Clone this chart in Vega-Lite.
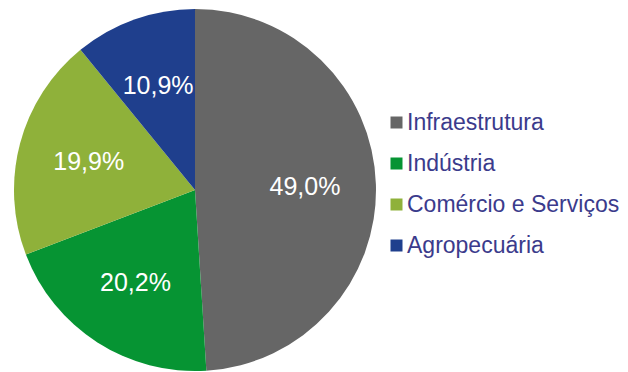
{
  "$schema": "https://vega.github.io/schema/vega-lite/v6.json",
  "width": 390,
  "height": 380,
  "padding": 0,
  "background": "white",
  "config": {"view": {"stroke": null}, "font": "Liberation Sans"},
  "data": {
    "values": [
      {"setor": "Infraestrutura", "pct": 49.0, "rotulo": "49,0%", "ordem": 1},
      {"setor": "Indústria", "pct": 20.2, "rotulo": "20,2%", "ordem": 2},
      {"setor": "Comércio e Serviços", "pct": 19.9, "rotulo": "19,9%", "ordem": 3},
      {"setor": "Agropecuária", "pct": 10.9, "rotulo": "10,9%", "ordem": 4}
    ]
  },
  "encoding": {
    "theta": {"field": "pct", "type": "quantitative", "stack": true},
    "order": {"field": "ordem", "type": "quantitative"}
  },
  "layer": [
    {
      "mark": {"type": "arc", "outerRadius": 181},
      "encoding": {
        "color": {
          "field": "setor",
          "type": "nominal",
          "sort": ["Infraestrutura", "Indústria", "Comércio e Serviços", "Agropecuária"],
          "scale": {
            "domain": ["Infraestrutura", "Indústria", "Comércio e Serviços", "Agropecuária"],
            "range": ["#666666", "#069433", "#8fb13a", "#1f3f8d"]
          },
          "legend": {
            "title": null,
            "orient": "none",
            "legendX": 385,
            "legendY": 111,
            "symbolType": "square",
            "symbolSize": 144,
            "symbolStrokeWidth": 0,
            "labelFontSize": 23,
            "labelColor": "#3b3b8c",
            "labelFont": "Liberation Sans",
            "labelOffset": -1,
            "rowPadding": 17,
            "labelLimit": 300
          }
        }
      }
    },
    {
      "mark": {"type": "text", "radius": 110, "fontSize": 25, "color": "white", "font": "Liberation Sans"},
      "encoding": {
        "text": {"field": "rotulo", "type": "nominal"}
      }
    }
  ]
}
